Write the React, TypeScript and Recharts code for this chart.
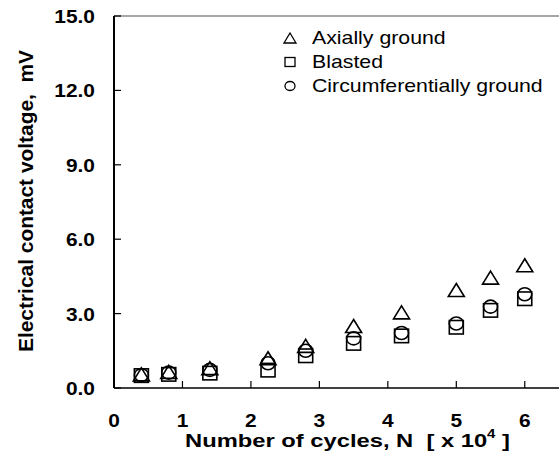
import { ScatterChart, Scatter, XAxis, YAxis, ReferenceLine, Legend, Label } from 'recharts';

// cycles N, in units of 10^4
const cycles = [0.4, 0.8, 1.4, 2.25, 2.8, 3.5, 4.2, 5.0, 5.5, 6.0];

// electrical contact voltage, mV
const axiallyGround = [0.55, 0.65, 0.8, 1.2, 1.7, 2.5, 3.05, 3.95, 4.45, 4.95];
const blasted = [0.5, 0.55, 0.6, 0.72, 1.3, 1.8, 2.1, 2.45, 3.13, 3.6];
const circumferentiallyGround = [0.52, 0.62, 0.73, 1.0, 1.5, 2.0, 2.22, 2.6, 3.28, 3.78];

const xTicks = [0, 1, 2, 3, 4, 5, 6];
const yTicks = [0, 3, 6, 9, 12, 15];

const seriesNames = ['Axially ground', 'Blasted', 'Circumferentially ground'];

const toPoints = (ys: number[]) => cycles.map((x, i) => ({ x, y: ys[i] }));

const FONT = '"Liberation Sans", Arial, sans-serif';

// markers
function TriangleMark({ cx, cy, w = 16, h = 13, sw = 1.6 }: any) {
  return (
    <path
      d={`M${cx},${cy - h / 2} L${cx + w / 2},${cy + h / 2} L${cx - w / 2},${cy + h / 2} Z`}
      fill="none"
      stroke="#000"
      strokeWidth={sw}
    />
  );
}

function SquareMark({ cx, cy, w = 14, h = 13.5, sw = 1.6 }: any) {
  return <rect x={cx - w / 2} y={cy - h / 2} width={w} height={h} fill="none" stroke="#000" strokeWidth={sw} />;
}

function CircleMark({ cx, cy, rx = 7, ry = 6.5, sw = 1.6 }: any) {
  return <ellipse cx={cx} cy={cy} rx={rx} ry={ry} fill="none" stroke="#000" strokeWidth={sw} />;
}

// tick labels
const YTick = ({ y, payload }: any) => (
  <text
    transform={`translate(95,${y + 7}) scale(1.1,1)`}
    textAnchor="end"
    fontFamily={FONT}
    fontWeight="bold"
    fontSize={19}
    fill="#000"
  >
    {Number(payload.value).toFixed(1)}
  </text>
);

const XTick = ({ x, payload }: any) => (
  <text
    transform={`translate(${x},427) scale(1.1,1)`}
    textAnchor="middle"
    fontFamily={FONT}
    fontWeight="bold"
    fontSize={19}
    fill="#000"
  >
    {payload.value}
  </text>
);

const XTitle = () => (
  <text
    x={185}
    y={447}
    textLength={325}
    lengthAdjust="spacingAndGlyphs"
    fontFamily={FONT}
    fontWeight="bold"
    fontSize={19}
    fill="#000"
    style={{ whiteSpace: 'pre' }}
  >
    {'Number of cycles, N  [ x 10'}
    <tspan dy={-9} fontSize={12}>4</tspan>
    <tspan dy={9}>{' ]'}</tspan>
  </text>
);

const YTitle = () => (
  <text
    transform="translate(33,201) rotate(-90)"
    textAnchor="middle"
    textLength={302}
    lengthAdjust="spacingAndGlyphs"
    fontFamily={FONT}
    fontWeight="bold"
    fontSize={20}
    fill="#000"
    style={{ whiteSpace: 'pre' }}
  >
    {'Electrical contact voltage,  mV'}
  </text>
);

const legendIcons = [
  <TriangleMark cx={8} cy={12} w={12} h={10} sw={1.3} />,
  <SquareMark cx={8} cy={12} w={10} h={9} sw={1.3} />,
  <CircleMark cx={8} cy={12} rx={5} ry={4.5} sw={1.3} />,
];

const LegendBox = () => (
  <div style={{ fontFamily: FONT, fontSize: 19, color: '#000' }}>
    {seriesNames.map((name, i) => (
      <div key={name} style={{ display: 'flex', alignItems: 'center', height: 24 }}>
        <svg width={16} height={24}>{legendIcons[i]}</svg>
        <span
          style={{
            marginLeft: 14,
            display: 'inline-block',
            transform: 'scaleX(1.12)',
            transformOrigin: 'left center',
            whiteSpace: 'nowrap',
          }}
        >
          {name}
        </span>
      </div>
    ))}
  </div>
);

export default function App() {
  return (
    <div style={{ position: 'absolute', left: 0, top: 0, width: 559, height: 462, background: '#fff' }}>
      <ScatterChart width={559} height={462} margin={{ top: 16, right: 0, bottom: 0, left: 0 }}>
        <XAxis
          type="number"
          dataKey="x"
          domain={[0, 6.5]}
          ticks={xTicks}
          allowDataOverflow
          height={74}
          axisLine={{ stroke: '#000', strokeWidth: 1.5 }}
          tickLine={{ stroke: '#000', strokeWidth: 1.2 }}
          tickSize={-7}
          tick={<XTick />}
        >
          <Label content={<XTitle />} />
        </XAxis>
        <YAxis
          type="number"
          dataKey="y"
          domain={[0, 15]}
          ticks={yTicks}
          allowDataOverflow
          width={114}
          axisLine={{ stroke: '#000', strokeWidth: 2 }}
          tickLine={{ stroke: '#000', strokeWidth: 1.2 }}
          tickSize={-7}
          tick={<YTick />}
        >
          <Label content={<YTitle />} />
        </YAxis>
        <ReferenceLine y={15} stroke="#888" strokeWidth={1.5} />
        <Legend
          layout="vertical"
          align="center"
          verticalAlign="middle"
          wrapperStyle={{ left: 282, top: 26, width: 277 }}
          content={<LegendBox />}
        />
        <Scatter
          name={seriesNames[0]}
          data={toPoints(axiallyGround)}
          shape={(p: any) => <TriangleMark cx={p.cx} cy={p.cy} />}
          isAnimationActive={false}
        />
        <Scatter
          name={seriesNames[1]}
          data={toPoints(blasted)}
          shape={(p: any) => <SquareMark cx={p.cx} cy={p.cy} />}
          isAnimationActive={false}
        />
        <Scatter
          name={seriesNames[2]}
          data={toPoints(circumferentiallyGround)}
          shape={(p: any) => <CircleMark cx={p.cx} cy={p.cy} />}
          isAnimationActive={false}
        />
      </ScatterChart>
    </div>
  );
}
